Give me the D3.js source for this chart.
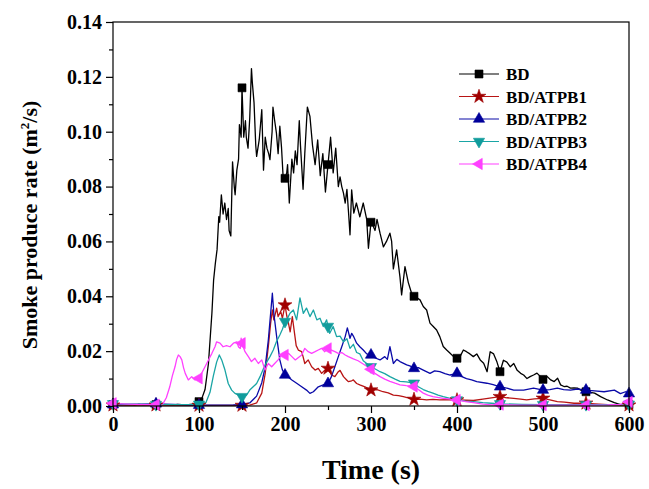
<!DOCTYPE html>
<html>
<head>
<meta charset="utf-8">
<script src="https://cdn.jsdelivr.net/npm/d3@7/dist/d3.min.js"></script>
<style>
  html, body { margin: 0; padding: 0; background: #fff; }
  svg text { font-family: "Liberation Serif", "Times New Roman", serif; font-weight: bold; fill: #000; }
</style>
</head>
<body>
<svg id="chart" width="649" height="489"></svg>
<script>
// ---------------- data ----------------
const seriesNames = ["BD", "BD/ATPB1", "BD/ATPB2", "BD/ATPB3", "BD/ATPB4"];

const bdTime = [0,5,10,15,20,25,30,35,40,45,50,55,60,65,70,75,80,85,90,95,100,103,107,111,115,117,119,121,123,124,126,128,130,132,134,135,137,139,141,142,144,146,147,149,150,152,154,155,157,159,161,162,164,166,167,170,173,175,177,179,181,182.5,185,186,188,190,192,194,196,198,200,202,203,205,208,210,212,214,216.6,218,221,223,226,229,232,235,238,241,244,247,250,253,256,259,262,264,266,268,270,272,274,275.6,277.5,280,283,287,291,295,297,300,302,304.7,307,310.5,314.4,318,322,324,326,329.8,333.7,335.6,339.5,343.4,347.3,350,353,357,360.8,364.7,368.6,372.4,376.3,380,384,388,392,396,400,403.5,407.4,411,415,419,423,427,431,435,438.6,442.6,446.5,450,454,458,462,466,470,474,477.5,481.4,485,489,493,497,500,505,509,513,517,520.5,524.4,528,532,536,540,544,550,555,560,567,575,583,590,595,600];
const bdRate = [0.0005,0.0003,0.0006,0.0004,0.0005,0.0003,0.0006,0.0004,0.0005,0.0004,0.0005,0.0006,0.0004,0.0005,0.0003,0.0006,0.0005,0.0004,0.0006,0.0008,0.0016,0.0025,0.006,0.0155,0.0338,0.046,0.052,0.057,0.069,0.067,0.077,0.070,0.074,0.068,0.072,0.064,0.062,0.089,0.080,0.077,0.086,0.090,0.1026,0.098,0.116,0.098,0.104,0.098,0.094,0.105,0.123,0.118,0.1105,0.095,0.091,0.097,0.108,0.086,0.098,0.094,0.092,0.0898,0.100,0.109,0.104,0.0996,0.092,0.102,0.094,0.0825,0.083,0.085,0.088,0.074,0.090,0.085,0.093,0.088,0.104,0.095,0.079,0.092,0.109,0.1056,0.095,0.088,0.097,0.084,0.092,0.078,0.088,0.098,0.085,0.094,0.080,0.0835,0.080,0.0776,0.074,0.079,0.070,0.0624,0.0788,0.0703,0.074,0.069,0.074,0.068,0.0575,0.067,0.066,0.064,0.068,0.063,0.058,0.060,0.063,0.060,0.050,0.0569,0.047,0.0405,0.0508,0.045,0.041,0.040,0.0395,0.0387,0.0363,0.035,0.0302,0.029,0.0277,0.0253,0.0217,0.0204,0.0192,0.018,0.0174,0.018,0.0204,0.0198,0.019,0.018,0.019,0.0168,0.0156,0.0125,0.0198,0.019,0.016,0.0125,0.0167,0.016,0.0143,0.0155,0.013,0.0119,0.0113,0.010,0.0107,0.0113,0.012,0.0107,0.0097,0.0107,0.0095,0.0089,0.0101,0.0077,0.0071,0.0072,0.0065,0.0066,0.0065,0.0058,0.0052,0.0050,0.0047,0.0034,0.0022,0.0012,0.0005,0.0004,0.0005];

const atpb1Time = [0,50,100,150,159,167,173,177,180.6,183.3,185.3,187,190.3,192,195,197,200,202,204,206,208.5,211.6,213,215.5,219.4,221,223,227,231,235,238.7,242.6,246.5,250,254,258,262,264,268,271.7,273.6,277.5,279.5,283.3,287,293,300,307,314,320,326,332,337.6,343,350,357,364.7,372,380,390,400,410,419,430,440,450,458,466,474,481,490,500,508,516.7,525,536,545,550,560,575,590,600];
const atpb1Rate = [0.0003,0.0003,0.0002,0.0002,0.0003,0.0011,0.0047,0.0119,0.0216,0.0302,0.035,0.0314,0.0357,0.0326,0.0345,0.032,0.0368,0.033,0.0302,0.027,0.0326,0.0253,0.022,0.0204,0.0198,0.018,0.0155,0.0168,0.0143,0.0131,0.0137,0.0119,0.0131,0.0137,0.0113,0.0107,0.0125,0.013,0.0107,0.0095,0.0089,0.0092,0.0095,0.0082,0.0077,0.007,0.0058,0.006,0.0052,0.0048,0.004,0.0038,0.0034,0.003,0.0024,0.0025,0.0022,0.0024,0.0022,0.0023,0.0022,0.0021,0.002,0.0025,0.003,0.0034,0.003,0.0028,0.0025,0.0022,0.0026,0.0028,0.0022,0.0016,0.0014,0.001,0.001,0.001,0.0008,0.0005,0.0003,0.0003];

const atpb2Time = [0,50,100,140,150,159,167,173,177,180.6,183.3,185.3,187,190.3,194,197,200,204,208,214,219.4,225,229,233,238.7,244.5,250,254,258,262,266,270,272.5,275.6,277.6,279.5,283.3,287,291,295,300,305,310.5,316,319,322,326,330,333.7,341.5,346,350,355,360.8,368.6,374,380,386,392,400,405,411,417,423,434.7,442,450,458,466,477.5,489,500,508,516.7,524,532,540,550,560,571,583,590,596,600];
const atpb2Rate = [0.0005,0.0008,0.0003,0.0004,0.0005,0.0011,0.0036,0.0085,0.0143,0.024,0.0338,0.0411,0.0338,0.0253,0.0168,0.0131,0.0113,0.0105,0.0095,0.0082,0.007,0.0058,0.0046,0.0052,0.007,0.0077,0.0082,0.0107,0.0143,0.018,0.0216,0.0253,0.0285,0.0247,0.0265,0.0255,0.0229,0.0216,0.0204,0.019,0.0186,0.0175,0.0168,0.018,0.017,0.0216,0.0155,0.017,0.0162,0.015,0.0145,0.0137,0.014,0.0131,0.0119,0.0128,0.0125,0.0118,0.0113,0.0119,0.0108,0.010,0.0095,0.0089,0.0083,0.0078,0.007,0.0065,0.0058,0.0058,0.0065,0.0058,0.006,0.0065,0.006,0.0058,0.0062,0.0058,0.0055,0.0052,0.0058,0.0045,0.0052,0.0045];

const atpb3Time = [0,50,100,108,112.8,116.7,120.5,123.6,126.4,130.2,134,138,141.8,145.7,150,155.4,159,163,167,171,175,178.7,182.5,186.4,190,194,197,200,202,205.8,209.7,213.5,217.4,221.3,225,229,233,237,240.7,244.5,248.4,250,252,256,260,264,268,272,275.6,279.5,283.3,287,291,295,300,305,310.5,316,322,328,333.7,341,350,355,360.8,366,372,378,384,392,400,410,419,430,440,450,475,500,525,550,575,600];
const atpb3Rate = [0.0008,0.0005,0.0006,0.0012,0.005,0.011,0.016,0.0186,0.0168,0.0131,0.0082,0.0058,0.0046,0.004,0.0034,0.004,0.0058,0.007,0.0082,0.0107,0.0137,0.016,0.018,0.0204,0.0234,0.0259,0.028,0.0308,0.0314,0.0338,0.035,0.0314,0.0394,0.0338,0.0357,0.0326,0.035,0.0314,0.032,0.029,0.0314,0.029,0.0265,0.029,0.0253,0.0255,0.0234,0.0245,0.021,0.0225,0.0195,0.019,0.0165,0.0155,0.0143,0.0135,0.0125,0.0118,0.0107,0.0098,0.009,0.0088,0.0083,0.007,0.006,0.0053,0.0047,0.004,0.0034,0.0028,0.0022,0.0018,0.0016,0.0012,0.001,0.0008,0.0006,0.0005,0.0005,0.0005,0.0005,0.0006];

const atpb4Time = [0,10,25,40,50,58,62,66,69,72.1,74,76,78,80,82,84,87.6,91.5,95.3,100,103,107,111,115,118.6,120.5,124.4,128,132,136,140,144,146,148,149,150,153.5,157.4,161,165,169,173,176.7,180.6,184.5,188,192,196,200,204,208,212,216,219.4,223,227,231,235,238.7,242.6,246,250,254,258,262,266,270,273.6,279.5,285,290,295,300,305,310.5,316,322,328,333.7,341,350,355,360.8,366,372,384,392,400,410,419,430,440,450,475,500,525,550,575,590,600];
const atpb4Rate = [0.001,0.0008,0.0006,0.0005,0.0005,0.0008,0.003,0.007,0.011,0.0143,0.017,0.0186,0.018,0.0168,0.014,0.0119,0.0095,0.0107,0.0095,0.0101,0.0119,0.0143,0.0168,0.0192,0.0216,0.0234,0.0229,0.0216,0.022,0.0216,0.0229,0.0234,0.0215,0.021,0.0247,0.0229,0.0198,0.018,0.0162,0.0174,0.0155,0.0168,0.0131,0.0155,0.0143,0.0155,0.0168,0.0186,0.0186,0.0192,0.018,0.0168,0.0178,0.0186,0.021,0.0198,0.0192,0.0198,0.0204,0.021,0.0198,0.021,0.0204,0.0198,0.0192,0.0195,0.0186,0.018,0.0172,0.0165,0.0155,0.0145,0.0134,0.0118,0.0107,0.0098,0.009,0.0083,0.0077,0.0074,0.0071,0.006,0.0047,0.004,0.0034,0.0028,0.0025,0.0022,0.0016,0.0012,0.0007,0.0004,0.0005,0.0003,0.0003,0.0003,0.0003,0.0004,0.0006,0.0015];

const xTicks = [0, 100, 200, 300, 400, 500, 600];
const yTicks = [0.00, 0.02, 0.04, 0.06, 0.08, 0.10, 0.12, 0.14];
const markerEvery = 50;

// ---------------- styling ----------------
const colors = ["#000000", "#b81414", "#0a0aa8", "#1aa5a5", "#ff40ff"];
const markerFill = ["#000000", "#a00000", "#00009a", "#109c9c", "#ff40ff"];
const symbols = [
  {type: d3.symbolSquare, size: 64, rot: 0},
  {type: d3.symbolStar, size: 60, rot: 0},
  {type: d3.symbolTriangle, size: 55, rot: 0},
  {type: d3.symbolTriangle, size: 55, rot: 180},
  {type: d3.symbolTriangle, size: 55, rot: -90}
];

const series = [
  [bdTime, bdRate], [atpb1Time, atpb1Rate], [atpb2Time, atpb2Rate],
  [atpb3Time, atpb3Rate], [atpb4Time, atpb4Rate]
].map(([t, v], i) => ({ name: seriesNames[i], points: t.map((tt, j) => ({t: tt, v: v[j]})) }));

const svg = d3.select("#chart");
const mLeft = 113, mRight = 629, mTop = 22, mBottom = 406;
const x = d3.scaleLinear().domain([0, 600]).range([mLeft, mRight]);
const y = d3.scaleLinear().domain([0, 0.14]).range([mBottom, mTop]);

// series lines
const line = d3.line().x(d => x(d.t)).y(d => y(d.v));
const plot = svg.append("g");
series.forEach((s, i) => {
  plot.append("path").datum(s.points)
    .attr("d", line).attr("fill", "none")
    .attr("stroke", colors[i]).attr("stroke-width", 1.3)
    .attr("stroke-linejoin", "round");
});
series.forEach((s, i) => {
  const sym = d3.symbol().type(symbols[i].type).size(symbols[i].size);
  plot.selectAll(null).data(s.points.filter(p => p.t % markerEvery === 0))
    .enter().append("path")
    .attr("d", sym)
    .attr("transform", p => `translate(${x(p.t)},${y(p.v)}) rotate(${symbols[i].rot})`)
    .attr("fill", markerFill[i]).attr("stroke", markerFill[i]).attr("stroke-width", 0.6);
});

// frame
svg.append("rect").attr("x", mLeft).attr("y", mTop)
  .attr("width", mRight - mLeft).attr("height", mBottom - mTop)
  .attr("fill", "none").attr("stroke", "#000").attr("stroke-width", 1.2);

// axes
const xAxis = d3.axisBottom(x).tickValues(xTicks).tickSize(7).tickSizeOuter(0).tickPadding(4).tickFormat(d3.format("d"));
const xMinor = d3.axisBottom(x).tickValues(d3.range(50, 600, 100)).tickSize(4).tickSizeOuter(0).tickFormat("");
const yAxis = d3.axisLeft(y).tickValues(yTicks).tickSize(7).tickSizeOuter(0).tickPadding(4).tickFormat(d3.format(".2f"));
const yMinor = d3.axisLeft(y).tickValues(d3.range(0.01, 0.14, 0.02)).tickSize(4).tickSizeOuter(0).tickFormat("");

function style(g, fs) {
  g.select(".domain").remove();
  g.selectAll("line").attr("stroke", "#000").attr("stroke-width", 1.2);
  g.selectAll("text").attr("font-size", fs).style("font-family", '"Liberation Serif", "Times New Roman", serif').style("font-weight", "bold");
}
svg.append("g").attr("transform", `translate(0,${mBottom})`).call(xAxis).call(g => style(g, 20));
svg.append("g").attr("transform", `translate(0,${mBottom})`).call(xMinor).call(g => style(g, 20));
svg.append("g").attr("transform", `translate(${mLeft},0)`).call(yAxis).call(g => style(g, 20));
svg.append("g").attr("transform", `translate(${mLeft},0)`).call(yMinor).call(g => style(g, 20));

// axis titles
svg.append("text").attr("x", (mLeft + mRight) / 2).attr("y", 479)
  .attr("text-anchor", "middle").attr("font-size", 28).text("Time (s)");
const yt = svg.append("text").attr("transform", "translate(37,225) rotate(-90)")
  .attr("text-anchor", "middle").attr("font-size", 22);
yt.append("tspan").text("Smoke produce rate (m");
yt.append("tspan").attr("font-size", 13).attr("dy", -8).text("2");
yt.append("tspan").attr("dy", 8).text("/s)");

// legend
const lg = svg.append("g");
seriesNames.forEach((name, i) => {
  const ly = 74 + i * 22.5;
  lg.append("line").attr("x1", 459).attr("x2", 499).attr("y1", ly).attr("y2", ly)
    .attr("stroke", colors[i]).attr("stroke-width", 1.2);
  lg.append("path").attr("d", d3.symbol().type(symbols[i].type).size(symbols[i].size))
    .attr("transform", `translate(479,${ly}) rotate(${symbols[i].rot})`)
    .attr("fill", markerFill[i]).attr("stroke", markerFill[i]).attr("stroke-width", 0.6);
  lg.append("text").attr("x", 506).attr("y", ly + 6).attr("font-size", 17).text(name);
});
</script>
</body>
</html>
